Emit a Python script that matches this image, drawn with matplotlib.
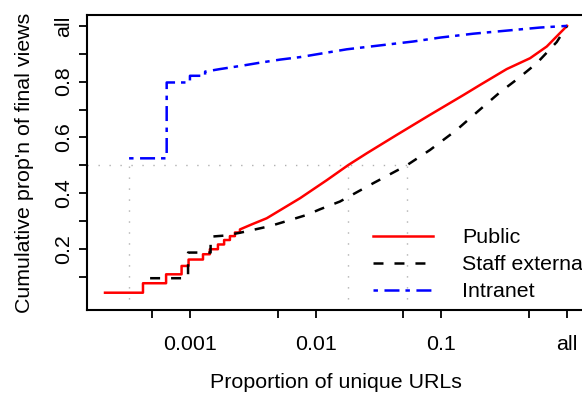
import numpy as np
import matplotlib
matplotlib.use("Agg")
import matplotlib.pyplot as plt
from matplotlib.lines import Line2D

plt.rcParams['font.family'] = ['Liberation Sans', 'DejaVu Sans']
plt.rcParams['lines.scale_dashes'] = False

# ---------------- data ----------------
public_x = [0.000211, 0.000423, 0.000646, 0.000858, 0.000975, 0.00127, 0.00144,
            0.00167, 0.00187, 0.00208, 0.00228, 0.00250, 0.00310, 0.00408, 0.00752,
            0.0123, 0.0182, 0.0255, 0.0442, 0.0813, 0.150, 0.203, 0.331, 0.508,
            0.690, 1.0]
public_y = [0.043, 0.077, 0.109, 0.139, 0.162, 0.181, 0.199, 0.216, 0.232, 0.246,
            0.259, 0.270, 0.288, 0.310, 0.382, 0.447, 0.501, 0.543, 0.609, 0.681,
            0.752, 0.788, 0.845, 0.884, 0.926, 1.0]
public_nsteps = 12

staff_x = [0.000482, 0.000966, 0.00146, 0.0019, 0.0025, 0.0033, 0.00434, 0.00589,
           0.00849, 0.0108, 0.0156, 0.0288, 0.0531, 0.0813, 0.1325, 0.203, 0.293,
           0.41, 0.574, 0.690, 0.828, 1.0]
staff_y = [0.095, 0.187, 0.244, 0.248, 0.258, 0.270, 0.282, 0.300, 0.322, 0.342,
           0.370, 0.436, 0.500, 0.555, 0.627, 0.700, 0.762, 0.812, 0.866, 0.904,
           0.942, 1.0]
staff_nsteps = 3

intranet_x = [0.000328, 0.000653, 0.001, 0.00132, 0.00173, 0.00266, 0.00361,
              0.00521, 0.00752, 0.00989, 0.0177, 0.0599, 0.0977, 0.180, 0.331,
              0.610, 1.0]
intranet_y = [0.525, 0.797, 0.821, 0.836, 0.845, 0.858, 0.868, 0.879, 0.888,
              0.897, 0.916, 0.944, 0.958, 0.972, 0.983, 0.994, 1.0]
intranet_nsteps = 4

series_names = ["Public", "Staff external", "Intranet"]

median_y = 0.5
median_x = [0.000328, 0.0182, 0.0531]

xtick_pos = [0.0005, 0.001, 0.005, 0.01, 0.05, 0.1, 0.5, 1.0]
xtick_lab = ["", "0.001", "", "0.01", "", "0.1", "", "all"]
ytick_pos = [0.1, 0.2, 0.3, 0.4, 0.5, 0.6, 0.7, 0.8, 0.9, 1.0]
ytick_lab = ["", "0.2", "", "0.4", "", "0.6", "", "0.8", "", "all"]


def step_then_line(xs, ys, nsteps):
    """Step (horizontal then vertical) for the first points, straight after."""
    px, py = [xs[0]], [ys[0]]
    for i in range(1, len(xs)):
        if i < nsteps:
            px.append(xs[i]); py.append(ys[i - 1])
        px.append(xs[i]); py.append(ys[i])
    return px, py


W, H = 582, 394
fig = plt.figure(figsize=(W / 100, H / 100), dpi=100)
L, R, B, T = 87, 585.5, 310, 15
ax = fig.add_axes([L / W, 1 - B / H, (R - L) / W, (B - T) / H])
ax.set_xscale('log')
ax.set_xlim(10 ** -3.819, 10 ** 0.147)
ax.set_ylim(-0.019, 1.039)

FS = 15.4
lw = 1.8
styles = [
    dict(color='#FF0000', linestyle='-'),
    dict(color='black', linestyle=(0, (7.2, 7.9))),
    dict(color='#0000FF', linestyle=(0, (3.2, 4.7, 10.8, 4.3))),
]

# median guide lines
dot = dict(color='#B0B0B0', lw=1.0, linestyle=(0, (1.0, 6.9)))
ax.plot([10 ** -3.819, max(median_x)], [median_y, median_y], **dot)
for mx in median_x:
    ax.plot([mx, mx], [-0.019, median_y], **dot)

for (xs, ys, n), st in zip([(public_x, public_y, public_nsteps),
                            (staff_x, staff_y, staff_nsteps),
                            (intranet_x, intranet_y, intranet_nsteps)], styles):
    px, py = step_then_line(xs, ys, n)
    ax.plot(px, py, lw=lw, **st)

ax.set_xticks(xtick_pos)
ax.set_xticklabels(xtick_lab)
ax.xaxis.set_minor_locator(matplotlib.ticker.NullLocator())
ax.set_yticks(ytick_pos)
ax.set_yticklabels(ytick_lab, rotation=90, va='center')
ax.tick_params(axis='both', direction='out', length=5.8, width=1.3,
               labelsize=FS, color='black')
ax.tick_params(axis='x', pad=12)
ax.tick_params(axis='y', pad=4.5)
for s in ax.spines.values():
    s.set_linewidth(1.5)

fig.text(336.25 / W, 1 - 383 / H, "Proportion of unique URLs", fontsize=FS,
         ha='center', va='center')
fig.text(25 / W, 1 - 162.5 / H, "Cumulative prop'n of final views", fontsize=FS,
         ha='center', va='center', rotation=90)

handles = [Line2D([], [], lw=lw, **st) for st in styles]
ax.legend(handles, series_names, loc='upper left',
          bbox_to_anchor=(373 / W, 1 - 228 / H), bbox_transform=fig.transFigure,
          frameon=False, fontsize=FS, handlelength=2.8, handletextpad=1.35,
          labelspacing=0.38, borderpad=0, borderaxespad=0)

fig.savefig("out.png", dpi=100)
